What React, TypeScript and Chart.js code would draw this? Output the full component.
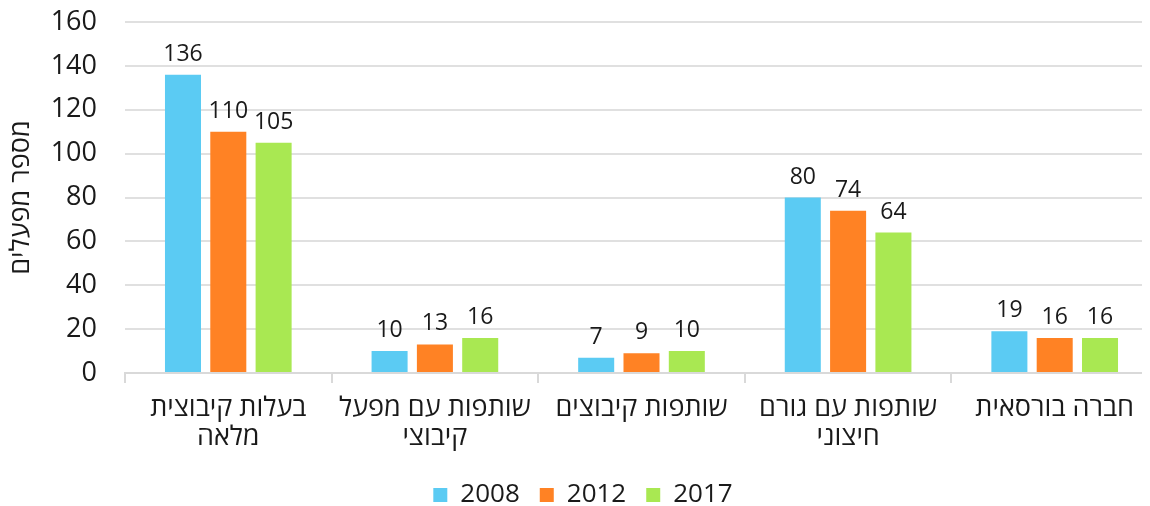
import React, { useEffect, useRef } from "react";
import { Chart, registerables } from "chart.js";

Chart.register(...registerables);

const categories: string[][] = [
  ["בעלות קיבוצית", "מלאה"],
  ["שותפות עם מפעל", "קיבוצי"],
  ["שותפות קיבוצים"],
  ["שותפות עם גורם", "חיצוני"],
  ["חברה בורסאית"],
];
const years = ["2008", "2012", "2017"];
const values2008 = [136, 10, 7, 80, 19];
const values2012 = [110, 13, 9, 74, 16];
const values2017 = [105, 16, 10, 64, 16];
const colors = ["#5BCBF3", "#FF8224", "#A9E852"];
const yTitle = "מספר מפעלים";

const FONT = "'Open Sans', 'DejaVu Sans', sans-serif";

const dataLabels = {
  id: "dataLabels",
  afterDatasetsDraw(chart: any) {
    const ctx = chart.ctx;
    ctx.save();
    ctx.font = `23px ${FONT}`;
    ctx.fillStyle = "#1a1a1a";
    ctx.textAlign = "center";
    ctx.textBaseline = "alphabetic";
    chart.data.datasets.forEach((ds: any, i: number) => {
      const meta = chart.getDatasetMeta(i);
      meta.data.forEach((el: any, j: number) => {
        ctx.fillText(String(ds.data[j]), el.x, el.y - 14);
      });
    });
    ctx.restore();
  },
};

export default function App() {
  const ref = useRef<HTMLCanvasElement | null>(null);
  useEffect(() => {
    document.body.style.overflow = "hidden";
    document.documentElement.style.overflow = "hidden";
    const series = [values2008, values2012, values2017];
    const chart = new Chart(ref.current!, {
      type: "bar",
      data: {
        labels: categories,
        datasets: years.map((y, i) => ({
          label: y,
          data: series[i],
          backgroundColor: colors[i],
          barPercentage: 0.795,
          categoryPercentage: 0.658,
        })),
      },
      options: {
        animation: false,
        responsive: false,
        maintainAspectRatio: false,
        layout: { padding: { top: 14, left: 0, right: 0, bottom: 0 } },
        plugins: {
          legend: {
            position: "bottom",
            labels: {
              boxWidth: 14,
              boxHeight: 14,
              padding: 20,
              color: "#1a1a1a",
              font: { family: FONT, size: 26, lineHeight: 1.1 },
            },
          },
          tooltip: { enabled: false },
        },
        scales: {
          x: {
            grid: {
              offset: true,
              drawOnChartArea: false,
              drawTicks: true,
              tickLength: 10,
              color: "#d9d9d9",
              lineWidth: 2,
            },
            border: { display: true, color: "#d9d9d9", width: 2 },
            ticks: {
              color: "#1a1a1a",
              padding: 10,
              maxRotation: 0,
              autoSkip: false,
              font: { family: FONT, size: 27, lineHeight: 1.1 },
            },
            afterFit(scale: any) {
              scale.height = 89;
              scale.paddingLeft = 0;
              scale.paddingRight = 0;
            },
          },
          y: {
            min: 0,
            max: 160,
            ticks: {
              stepSize: 20,
              color: "#1a1a1a",
              padding: 28,
              font: { family: FONT, size: 27 },
            },
            grid: { color: "#e0e0e0", lineWidth: 2, drawTicks: false },
            border: { display: false },
            title: {
              display: true,
              text: yTitle,
              color: "#1a1a1a",
              padding: 0,
              font: { family: FONT, size: 27, lineHeight: 1 },
            },
            afterFit(scale: any) {
              scale.width = 117;
              scale.paddingTop = 0;
              scale.paddingBottom = 0;
            },
          },
        },
      },
      plugins: [dataLabels],
    });
    return () => chart.destroy();
  }, []);
  return (
    <div style={{ width: 1150, height: 510 }}>
      <canvas ref={ref} width={1150} height={510} style={{ width: 1150, height: 510 }} />
    </div>
  );
}
